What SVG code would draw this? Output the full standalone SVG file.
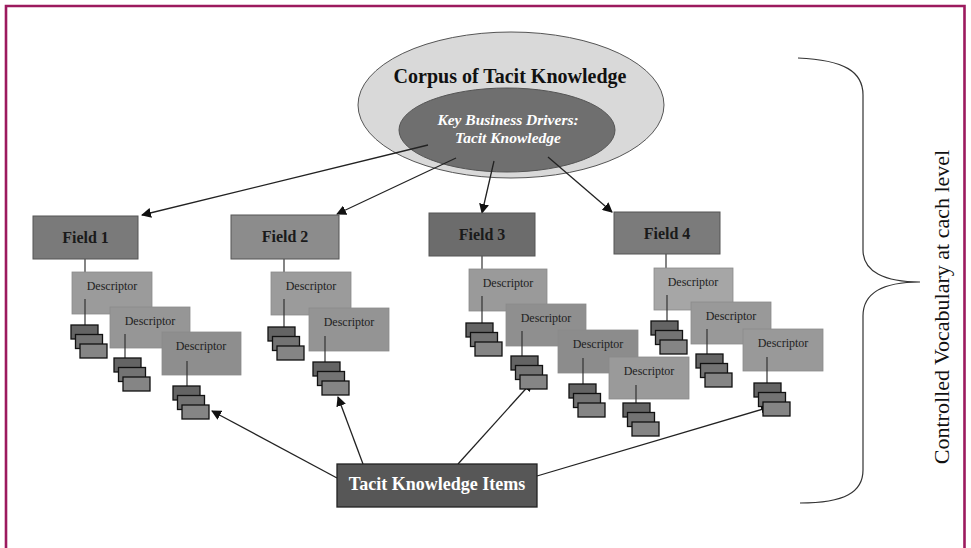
<svg xmlns="http://www.w3.org/2000/svg" width="971" height="548" viewBox="0 0 971 548" font-family="'Liberation Serif', 'Times New Roman', serif">
<defs>
<marker id="ah" viewBox="0 0 10 10" refX="9" refY="5" markerWidth="10" markerHeight="10" markerUnits="userSpaceOnUse" orient="auto">
<path d="M0,0 L10,5 L0,10 z" fill="#111"/>
</marker>
<g id="stack">
<rect x="0" y="0" width="27" height="14" class="s1"/>
<rect x="4.5" y="9.5" width="27" height="14" class="s2"/>
<rect x="9" y="19" width="27" height="14" class="s3"/>
</g>
</defs>
<style>
text{font-family:'Liberation Serif','Times New Roman',serif}
.field{stroke:#555;stroke-width:1}
.ft{font-size:16px;font-weight:bold;fill:#1a1a1a;text-anchor:middle}
.desc{stroke:#8a8a8a;stroke-width:0.8}
.dt{font-size:12px;fill:#222;text-anchor:middle}
.s1{fill:#646464;stroke:#111;stroke-width:1.3}
.s2{fill:#737373;stroke:#111;stroke-width:1.3}
.s3{fill:#858585;stroke:#111;stroke-width:1.3}
.ln{stroke:#333;stroke-width:1.2;fill:none}
.arr{stroke:#222;stroke-width:1.3;fill:none;marker-end:url(#ah)}
</style>
<rect width="971" height="548" fill="#fff"/>
<path d="M6,548 V6 H964.5 V548" fill="none" stroke="#9c1a5e" stroke-width="2.6"/>

<g id="corpus">
<ellipse cx="511" cy="105" rx="153" ry="73" fill="#d9d9d9" stroke="#555" stroke-width="1"/>
<text x="510" y="83" font-size="20" font-weight="bold" text-anchor="middle" fill="#111">Corpus of Tacit Knowledge</text>
</g>
<g id="drivers">
<ellipse cx="507" cy="130" rx="108" ry="42" fill="#6f6f6f" stroke="#555" stroke-width="1"/>
<text x="508" y="125" font-size="15.5" font-weight="bold" font-style="italic" text-anchor="middle" fill="#fff">Key Business Drivers:</text>
<text x="508" y="143" font-size="15.5" font-weight="bold" font-style="italic" text-anchor="middle" fill="#fff">Tacit Knowledge</text>
</g>

<g id="connectors">
<line class="arr" x1="428" y1="145" x2="142" y2="215"/>
<line class="arr" x1="456" y1="158" x2="337" y2="214"/>
<line class="arr" x1="494" y1="161" x2="482" y2="213"/>
<line class="arr" x1="548" y1="157" x2="612" y2="212"/>
<line class="arr" x1="337" y1="478" x2="212" y2="411"/>
<line class="arr" x1="363" y1="464" x2="338" y2="397"/>
<line class="arr" x1="458" y1="464" x2="532" y2="382"/>
<line class="arr" x1="537" y1="476" x2="770" y2="407"/>
<line class="ln" x1="85" y1="259" x2="85" y2="272"/>
<line class="ln" x1="284" y1="259" x2="284" y2="272"/>
<line class="ln" x1="482" y1="256" x2="482" y2="269"/>
<line class="ln" x1="666" y1="254" x2="666" y2="268"/>
</g>

<g id="field1">
<rect class="field" x="33" y="216" width="105" height="43" fill="#7a7a7a"/>
<text class="ft" x="85.5" y="243">Field 1</text>
</g>
<g id="field2">
<rect class="field" x="231" y="215" width="108" height="44" fill="#8c8c8c"/>
<text class="ft" x="285" y="242">Field 2</text>
</g>
<g id="field3">
<rect class="field" x="429" y="213" width="106" height="43" fill="#6c6c6c"/>
<text class="ft" x="482" y="240">Field 3</text>
</g>
<g id="field4">
<rect class="field" x="614" y="212" width="106" height="42" fill="#7b7b7b"/>
<text class="ft" x="667" y="239">Field 4</text>
</g>

<g id="f1d1">
<rect class="desc" x="72" y="272" width="80" height="42" fill="#9b9b9b"/>
<text class="dt" x="112" y="290">Descriptor</text>
<line class="ln" x1="85" y1="299" x2="85" y2="325"/>
<use href="#stack" x="71" y="325"/>
</g>
<g id="f1d2">
<rect class="desc" x="110" y="307" width="80" height="41" fill="#969696"/>
<text class="dt" x="150" y="325">Descriptor</text>
<line class="ln" x1="125" y1="334" x2="125" y2="358"/>
<use href="#stack" x="114" y="358"/>
</g>
<g id="f1d3">
<rect class="desc" x="162" y="332" width="79" height="43" fill="#8e8e8e"/>
<text class="dt" x="201" y="350">Descriptor</text>
<line class="ln" x1="187" y1="361" x2="187" y2="386"/>
<use href="#stack" x="173" y="386"/>
</g>

<g id="f2d1">
<rect class="desc" x="271" y="272" width="80" height="43" fill="#9b9b9b"/>
<text class="dt" x="311" y="290">Descriptor</text>
<line class="ln" x1="284" y1="299" x2="284" y2="327"/>
<use href="#stack" x="268" y="327"/>
</g>
<g id="f2d2">
<rect class="desc" x="309" y="308" width="80" height="43" fill="#949494"/>
<text class="dt" x="349" y="326">Descriptor</text>
<line class="ln" x1="325" y1="336" x2="325" y2="362"/>
<use href="#stack" x="313" y="362"/>
</g>

<g id="f3d1">
<rect class="desc" x="469" y="269" width="78" height="42" fill="#9a9a9a"/>
<text class="dt" x="508" y="287">Descriptor</text>
<line class="ln" x1="482" y1="296" x2="482" y2="323"/>
<use href="#stack" x="466" y="323"/>
</g>
<g id="f3d2">
<rect class="desc" x="506" y="304" width="80" height="42" fill="#8f8f8f"/>
<text class="dt" x="546" y="322">Descriptor</text>
<line class="ln" x1="522" y1="331" x2="522" y2="356"/>
<use href="#stack" x="511" y="356"/>
</g>
<g id="f3d3">
<rect class="desc" x="558" y="330" width="80" height="43" fill="#8c8c8c"/>
<text class="dt" x="598" y="348">Descriptor</text>
<line class="ln" x1="583" y1="358" x2="583" y2="384"/>
<use href="#stack" x="569" y="384"/>
</g>
<g id="f3d4">
<rect class="desc" x="609" y="357" width="80" height="42" fill="#9a9a9a"/>
<text class="dt" x="649" y="375">Descriptor</text>
<line class="ln" x1="636" y1="385" x2="636" y2="403"/>
<use href="#stack" x="623" y="403"/>
</g>

<g id="f4d1">
<rect class="desc" x="654" y="268" width="79" height="42" fill="#a6a6a6"/>
<text class="dt" x="693" y="286">Descriptor</text>
<line class="ln" x1="667" y1="295" x2="667" y2="321"/>
<use href="#stack" x="651" y="321"/>
</g>
<g id="f4d2">
<rect class="desc" x="691" y="302" width="80" height="42" fill="#999"/>
<text class="dt" x="731" y="320">Descriptor</text>
<line class="ln" x1="707" y1="329" x2="707" y2="354"/>
<use href="#stack" x="696" y="354"/>
</g>
<g id="f4d3">
<rect class="desc" x="743" y="329" width="80" height="42" fill="#999"/>
<text class="dt" x="783" y="347">Descriptor</text>
<line class="ln" x1="767" y1="357" x2="767" y2="383"/>
<use href="#stack" x="754" y="383"/>
</g>

<g id="items">
<rect x="337" y="464" width="200" height="43" fill="#575757" stroke="#222" stroke-width="1.3"/>
<text x="437" y="490" font-size="18" font-weight="bold" text-anchor="middle" fill="#fff">Tacit Knowledge Items</text>
</g>

<g id="brace">
<path d="M798,58 C845,60 863,72 863,95 V250 C863,272 885,282 920,282 C885,282 863,292 863,316 V470 C863,492 845,503 800,503" fill="none" stroke="#333" stroke-width="1.2"/>
<text transform="translate(949,307) rotate(-90)" font-size="22" text-anchor="middle" fill="#111">Controlled Vocabulary at cach level</text>
</g>
</svg>
